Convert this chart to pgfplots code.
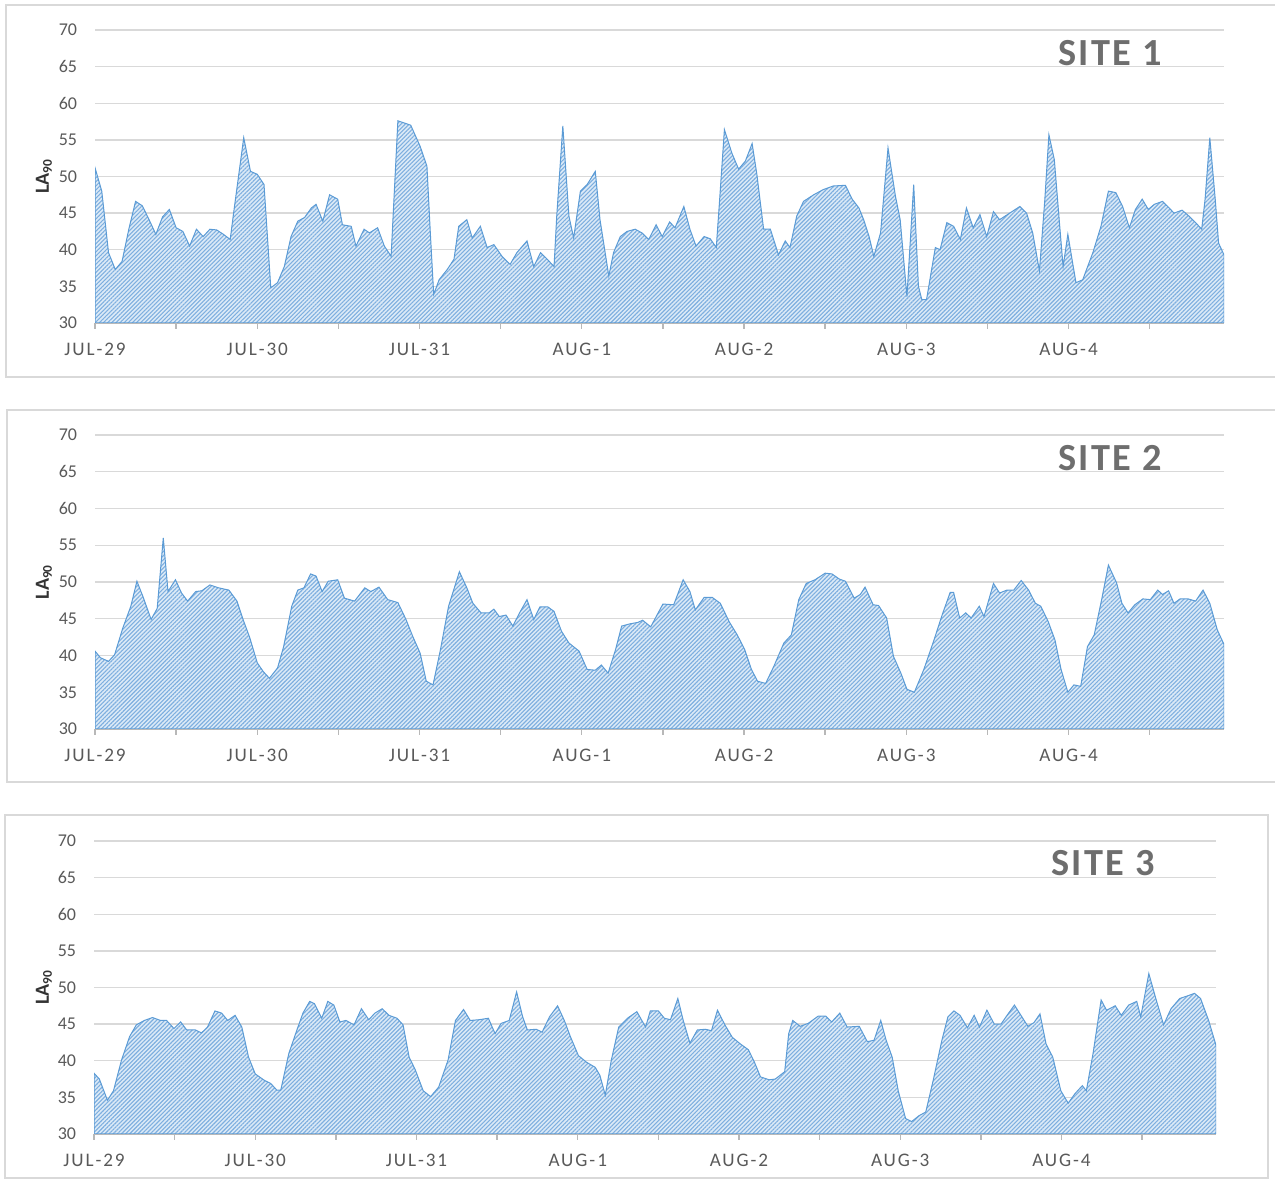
\documentclass[border=0pt]{standalone}
\usepackage{fontspec}
\setmainfont{Carlito}
\newfontfamily\spacedfont[LetterSpace=10]{Carlito}
\newfontfamily\titlefont[LetterSpace=6]{Carlito}
\usepackage{pgfplots}
\usepackage{pgfplotstable}
\pgfplotsset{compat=1.18}
\usetikzlibrary{patterns.meta}

\definecolor{areafill}{HTML}{DCEAF7}
\definecolor{areahatch}{HTML}{7EAFDF}
\definecolor{arealine}{HTML}{5B9BD5}
\definecolor{labelgray}{HTML}{595959}
\definecolor{titlegray}{HTML}{6E6E6E}
\definecolor{framegray}{HTML}{D9D9D9}

\pgfplotstableread{
h v
0 51.2
1 48.0
2 39.6
3 37.3
4 38.4
5 42.8
6 46.6
7 46.0
8 44.1
9 42.1
10 44.5
11 45.5
12 43.0
13 42.5
14 40.5
15 42.8
16 41.8
17 42.8
18 42.7
19 42.1
20 41.4
20.5 45.0
22 55.3
23 50.7
24 50.3
25 48.9
26 34.8
27 35.5
28 37.7
29 41.8
30 43.9
31 44.4
32 45.7
32.7 46.2
33.7 43.9
34.7 47.5
35.9 46.9
36.6 43.4
37.9 43.2
38.6 40.5
39.8 42.8
40.6 42.3
41.8 43.0
42.8 40.5
43.8 39.1
44.8 57.6
46.7 57.0
48.1 54.1
49.1 51.4
49.6 42.3
50.1 33.9
50.9 35.9
52.1 37.3
53.1 38.7
53.8 43.2
55.0 44.1
55.8 41.6
57.0 43.2
58.0 40.3
59.0 40.7
60.2 39.1
61.4 38.0
62.4 39.6
63.9 41.2
64.9 37.7
65.9 39.6
66.9 38.7
67.9 37.7
68.3 44.6
69.2 56.9
70.1 44.6
70.8 41.6
71.8 48.0
72.8 48.9
74.0 50.7
74.7 44.1
76.0 36.4
76.7 39.6
77.7 41.8
78.7 42.5
79.9 42.8
80.9 42.3
81.9 41.4
83.0 43.4
83.9 41.8
85.0 43.8
85.8 43.0
87.1 45.9
88.0 42.8
88.9 40.5
90.1 41.8
91.0 41.5
91.9 40.3
92.4 46.9
93.1 56.4
94.2 53.2
95.2 51.0
96.2 52.1
97.2 54.5
97.9 50.3
98.9 42.8
99.9 42.8
101.1 39.3
102.1 41.2
102.8 40.3
103.8 44.6
104.8 46.6
106.3 47.5
107.7 48.2
109.2 48.7
111.0 48.8
112.0 46.9
113.0 45.7
113.7 44.1
114.5 41.8
115.2 39.1
116.2 42.3
117.3 53.9
118.4 47.3
119.1 44.1
120.1 33.6
121.1 48.9
121.8 35.0
122.3 33.2
123.0 33.2
124.3 40.3
125.0 40.0
126.0 43.7
127.0 43.2
128.0 41.4
128.9 45.7
129.9 43.0
130.9 44.8
131.9 41.8
132.9 45.2
133.8 44.1
135.3 45.0
136.8 45.9
137.8 45.0
138.7 42.3
139.7 37.1
140.5 46.9
141.1 55.7
141.9 52.3
142.7 43.2
143.2 37.7
143.9 42.1
145.1 35.5
146.1 35.9
147.6 39.6
148.8 43.2
149.9 48.0
151.0 47.8
152.0 45.9
153.0 43.0
153.9 45.5
154.9 46.9
155.8 45.5
156.7 46.2
157.9 46.6
158.9 45.7
159.6 45.0
160.8 45.4
161.8 44.6
162.8 43.7
163.7 42.8
164.2 46.9
164.9 55.3
165.7 46.9
166.2 40.9
167.0 39.3
}\siteone

\pgfplotstableread{
h v
0 40.6
0.8 39.7
2 39.2
2.9 40.1
4.1 43.7
5.3 46.7
6.2 50.1
7.1 48.0
8.3 44.9
9.2 46.4
10.1 56.0
10.8 48.7
11.9 50.3
12.8 48.5
13.7 47.4
14.9 48.7
15.8 48.8
17.0 49.6
18.3 49.2
19.8 48.9
21.0 47.4
21.9 44.9
22.9 42.4
24.0 39.0
24.9 37.8
25.8 36.9
27.0 38.3
27.9 41.2
29.1 46.7
30.0 48.9
30.9 49.2
31.9 51.1
32.7 50.8
33.6 48.7
34.5 50.1
35.9 50.3
36.9 47.8
38.4 47.4
39.9 49.2
40.8 48.7
42.0 49.3
43.3 47.6
44.8 47.2
46.0 44.9
47.0 42.6
48.1 40.3
49.0 36.5
50.0 36.0
51.1 40.8
52.3 46.7
53.9 51.4
55.0 49.2
55.9 47.1
57.1 45.8
58.3 45.8
59.0 46.3
59.8 45.3
60.8 45.5
61.8 44.0
62.8 45.8
63.9 47.6
64.9 44.9
65.8 46.6
67.0 46.6
67.9 46.0
69.0 43.3
70.1 41.7
71.6 40.6
72.8 38.1
74.0 38.0
74.9 38.7
75.9 37.6
77.0 40.8
77.9 44.0
79.1 44.3
80.3 44.5
81.0 44.8
82.2 43.9
84.0 47.0
85.6 46.9
87.0 50.3
88.0 48.7
88.8 46.2
90.1 47.9
91.3 47.9
92.5 47.1
93.8 44.6
95.0 42.8
96.1 40.8
97.1 38.1
98.0 36.5
99.2 36.2
100.4 38.5
101.9 41.7
103.0 42.8
104.1 47.6
105.2 49.8
106.5 50.3
108.0 51.2
109.0 51.1
110.1 50.4
111.0 50.1
112.3 47.8
113.2 48.3
113.9 49.3
115.1 46.9
115.9 46.8
117.1 45.1
118.1 39.9
119.2 37.6
120.1 35.4
121.2 35.0
122.6 38.1
124.1 42.1
125.3 45.5
126.5 48.6
127.0 48.6
127.9 45.1
128.8 45.8
129.6 45.1
130.8 46.7
131.5 45.3
132.9 49.8
133.8 48.5
134.9 48.9
135.9 48.9
137.0 50.2
138.1 48.9
139.1 47.1
139.9 46.7
141.0 44.6
142.0 42.1
142.9 38.1
143.9 35.0
144.8 36.0
145.8 35.8
146.8 41.2
147.8 42.8
148.9 47.6
149.9 52.3
151.1 49.9
151.9 47.1
152.8 45.8
153.8 46.9
155.0 47.7
156.1 47.6
157.2 48.9
157.9 48.3
158.8 48.8
159.6 47.1
160.5 47.7
161.7 47.7
162.8 47.4
163.9 48.9
164.9 47.1
166.0 43.5
167.0 41.5
}\sitetwo

\pgfplotstableread{
h v
0 38.3
0.8 37.5
2.0 34.6
2.9 35.9
4.1 40.1
5.3 43.3
6.3 44.9
7.5 45.5
8.7 45.9
9.9 45.5
10.8 45.5
11.9 44.4
12.9 45.3
13.8 44.2
15.1 44.2
16.0 43.8
16.9 44.6
18.0 46.8
19.0 46.5
19.9 45.5
21.0 46.2
22.0 44.6
23.0 40.5
24.0 38.2
25.4 37.3
26.3 36.9
27.2 36.0
27.8 36.0
29.0 41.0
30.2 44.2
31.1 46.5
32.1 48.1
32.8 47.8
33.9 45.8
34.8 48.1
35.7 47.6
36.6 45.3
37.5 45.5
38.7 44.9
39.8 47.1
40.9 45.6
41.8 46.5
42.9 47.1
43.9 46.2
45.1 45.8
46.0 44.9
46.9 40.5
47.8 38.8
49.0 35.9
50.1 35.1
51.3 36.4
52.7 40.1
53.8 45.5
55.0 47.0
56.0 45.5
57.3 45.6
58.7 45.8
59.7 43.7
60.6 45.1
61.8 45.5
62.9 49.4
63.8 46.0
64.5 44.2
65.8 44.3
66.7 43.9
67.8 46.0
69.0 47.5
70.0 45.5
70.9 43.3
72.1 40.7
73.3 39.8
74.6 39.1
75.3 38.0
76.1 35.3
77.0 40.1
78.1 44.6
79.4 45.8
80.8 46.7
82.1 44.6
82.8 46.8
84.0 46.8
84.9 45.8
85.8 45.6
86.9 48.5
87.7 45.5
88.7 42.4
89.8 44.2
91.0 44.3
91.9 44.1
92.8 46.9
93.9 44.9
95.0 43.2
96.2 42.3
97.4 41.5
98.3 39.8
99.2 37.8
100.5 37.4
101.4 37.5
102.8 38.5
103.4 43.7
104.0 45.5
105.1 44.7
106.3 45.1
107.8 46.1
108.9 46.1
109.8 45.3
111.0 46.5
112.1 44.6
113.9 44.7
115.1 42.6
116.1 42.8
117.1 45.5
117.9 42.8
118.8 40.5
119.7 35.9
120.8 32.1
121.7 31.7
122.8 32.5
123.8 33.0
124.9 37.3
126.2 42.8
127.1 46.0
128.0 46.8
128.9 46.2
130.0 44.5
131.0 46.2
131.8 44.6
132.9 46.9
134.0 45.0
135.0 45.0
135.9 46.2
137.0 47.6
138.1 46.0
139.0 44.7
139.9 45.2
140.8 46.4
141.7 42.3
142.7 40.5
143.9 35.9
145.0 34.2
146.0 35.5
147.1 36.6
147.7 35.9
148.7 41.0
149.9 48.3
150.7 46.9
152.0 47.5
152.9 46.2
154.0 47.6
155.2 48.1
155.8 46.0
157.0 51.9
158.1 48.3
159.2 44.9
160.3 47.1
161.6 48.5
162.9 48.9
163.8 49.2
164.7 48.5
165.9 45.5
167.0 42.1
}\sitethree

\pgfplotsset{
  panel/.style={
    scale only axis,
    xmin=0, xmax=167, ymin=30, ymax=70,
    ytick={30,35,...,70},
    xtick={0,12,...,156},
    xticklabels={JUL-29,,JUL-30,,JUL-31,,AUG-1,,AUG-2,,AUG-3,,AUG-4,},
    axis x line=bottom, axis y line=left,
    x axis line style={-, draw=black!28, line width=0.8pt},
    y axis line style={draw=none},
    ymajorgrids,
    grid style={black!15, line width=0.8pt},
    ytick style={draw=none},
    xtick style={draw=black!28, line width=0.8pt},
    tick align=outside, major tick length=3.6pt,
    /pgf/number format/assume math mode=true,
    yticklabel style={font=\fontsize{10.8}{12}\selectfont, text=labelgray, xshift=-3.6pt},
    xticklabel style={font=\spacedfont\fontsize{11.5}{13}\selectfont, text=labelgray, yshift=-4.8pt},
  },
  areaA/.style={fill=areafill, draw=none},
  areaB/.style={pattern={Lines[angle=45, distance=1.75pt, line width=0.65pt]}, pattern color=areahatch, draw=arealine, line width=0.6pt},
}

\begin{document}
\begin{tikzpicture}
\useasboundingbox (0,0) rectangle (765pt,708.6pt);

% frames
\draw[framegray, line width=0.9pt] (3.6pt,482.4pt) rectangle (770pt,705.6pt);
\draw[framegray, line width=0.9pt] (4.2pt,239.4pt) rectangle (770pt,462.6pt);
\draw[framegray, line width=0.9pt] (3pt,1.8pt) rectangle (760.8pt,219.6pt);

\begin{axis}[panel, at={(57pt,514.8pt)}, anchor=south west, width=677.4pt, height=175.8pt]
\addplot[areaA] table[x=h, y=v] {\siteone} \closedcycle;
\addplot[areaB] table[x=h, y=v] {\siteone} \closedcycle;
\end{axis}

\begin{axis}[panel, at={(57pt,271.2pt)}, anchor=south west, width=677.4pt, height=176.4pt]
\addplot[areaA] table[x=h, y=v] {\sitetwo} \closedcycle;
\addplot[areaB] table[x=h, y=v] {\sitetwo} \closedcycle;
\end{axis}

\begin{axis}[panel, at={(56.4pt,28.2pt)}, anchor=south west, width=673.2pt, height=175.8pt]
\addplot[areaA] table[x=h, y=v] {\sitethree} \closedcycle;
\addplot[areaB] table[x=h, y=v] {\sitethree} \closedcycle;
\end{axis}

% titles
\node[font=\titlefont\bfseries\fontsize{23}{26}\selectfont, text=titlegray] at (666pt,676.8pt) {SITE 1};
\node[font=\titlefont\bfseries\fontsize{23}{26}\selectfont, text=titlegray] at (666pt,433.8pt) {SITE 2};
\node[font=\titlefont\bfseries\fontsize{23}{26}\selectfont, text=titlegray] at (661.8pt,190.8pt) {SITE 3};

% y labels
\node[rotate=90, font=\bfseries\fontsize{12}{14}\selectfont, text=black!80] at (26.4pt,602.7pt) {LA\textsubscript{90}};
\node[rotate=90, font=\bfseries\fontsize{12}{14}\selectfont, text=black!80] at (26.4pt,359.4pt) {LA\textsubscript{90}};
\node[rotate=90, font=\bfseries\fontsize{12}{14}\selectfont, text=black!80] at (26.4pt,116.1pt) {LA\textsubscript{90}};
\end{tikzpicture}
\end{document}
